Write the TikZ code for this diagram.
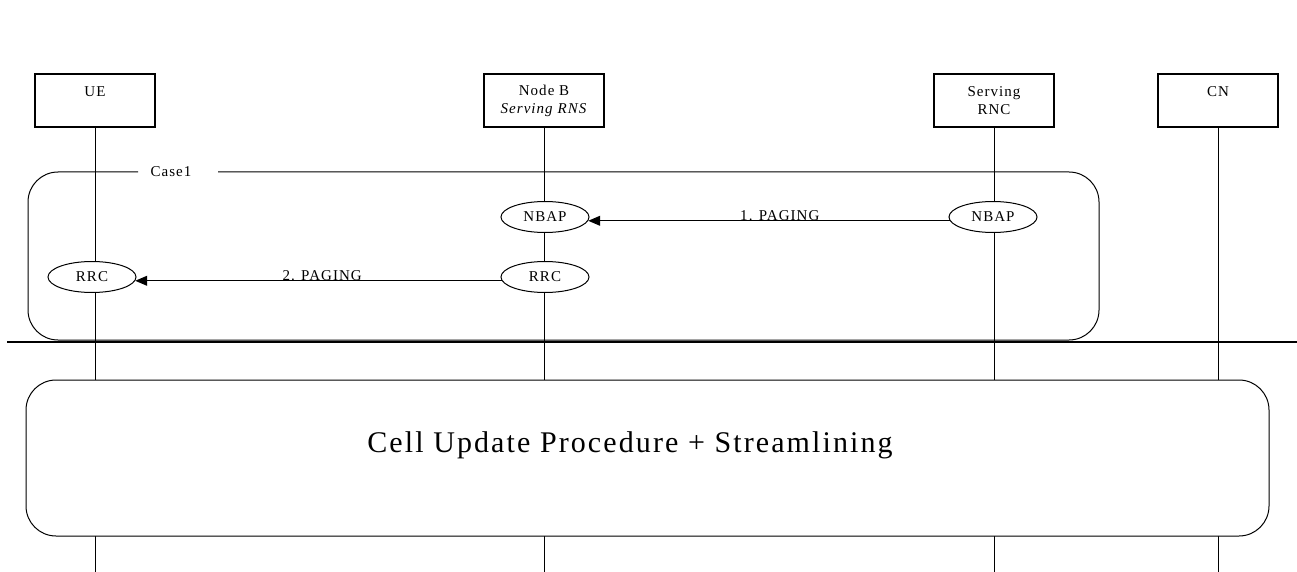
\documentclass[tikz,border=0pt]{standalone}
\usepackage{fontspec}
\setmainfont{Liberation Serif}[LetterSpace=7]
\usetikzlibrary{shapes.geometric,arrows.meta}
\begin{document}
\begin{tikzpicture}[x=1pt,y=-1pt,
  small/.style={font=\fontsize{15}{18}\selectfont},
  entity/.style={draw, line width=1.2pt, minimum width=120pt, minimum height=53pt, inner sep=0pt, align=center, small},
  proto/.style={ellipse, draw, fill=white, line width=1pt, minimum width=88pt, minimum height=31pt, inner sep=0pt, small},
  life/.style={line width=1pt},
  msg/.style={line width=1pt, -{Triangle[length=12pt,width=10pt]}},
  lbl/.style={above, inner sep=0pt, small}]
\useasboundingbox (0,0) rectangle (1297,572);
% entities
\node[entity] (ue) at (95,100.5) {UE\\~};
\node[entity] (nb) at (544,100.5) {Node B\\\textit{Serving RNS}};
\node[entity] (rnc) at (994,100.5) {Serving\\RNC};
\node[entity] (cn) at (1218,100.5) {CN\\~};
% lifeline ends
\coordinate (ueend) at (95,572);
\coordinate (nbend) at (544,572);
\coordinate (rncend) at (994,572);
\coordinate (cnend) at (1218,572);
\draw[life] (ue.south) -- (ueend);
\draw[life] (nb.south) -- (nbend);
\draw[life] (rnc.south) -- (rncend);
\draw[life] (cn.south) -- (cnend);
% Case1 frame
\draw[line width=1pt, rounded corners=30pt] (218,172) -- (1099,172) -- (1099,340) -- (28,340) -- (28,172) -- (138,172);
\node[small, inner sep=0pt] (case1) at (171,172) {Case1};
% protocol ellipses
\node[proto] (nbnbap) at (545,217) {NBAP};
\node[proto] (rncnbap) at (993,217) {NBAP};
\node[proto] (uerrc) at (92,277) {RRC};
\node[proto] (nbrrc) at (545,277) {RRC};
% messages
\draw[msg] (rncnbap.185) -- node[lbl, pos=0.47] {1. PAGING} (nbnbap.355);
\draw[msg] (nbrrc.185) -- node[lbl, pos=0.49] {2. PAGING} (uerrc.355);
% separator
\draw[line width=2.8pt] (7,342) -- (1297,342);
% cell update box
\draw[line width=1pt, fill=white, rounded corners=30pt] (26,380) rectangle (1269,536);
\node[font=\fontsize{30}{36}\selectfont, anchor=base, inner sep=0pt] (cup) at (630,452) {Cell Update Procedure + Streamlining};
\end{tikzpicture}
\end{document}
